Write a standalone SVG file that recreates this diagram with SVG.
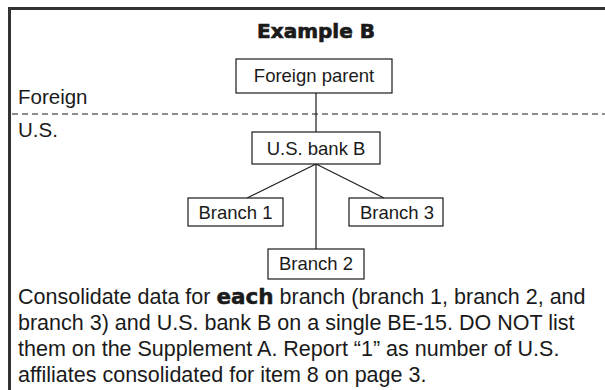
<svg xmlns="http://www.w3.org/2000/svg" width="605" height="390" viewBox="0 0 605 390">
<style>
.box{fill:#fff;stroke:#1a1a1a;stroke-width:1.2}
.lbl{font-family:"Liberation Sans",Arial,sans-serif;font-size:18.5px;fill:#1a1a1a;text-anchor:middle}
.side{font-family:"Liberation Sans",Arial,sans-serif;font-size:20.5px;fill:#1a1a1a}
.para{font-family:"Liberation Sans",Arial,sans-serif;font-size:21.5px;fill:#1a1a1a}
.con{stroke:#1a1a1a;stroke-width:1.2;fill:none}
</style>
<rect width="605" height="390" fill="#fff"/>
<path d="M9.5 390 V8.5 H605" fill="none" stroke="#333" stroke-width="3"/>
<text x="316" y="38" text-anchor="middle" font-family="'DejaVu Sans',sans-serif" font-weight="bold" font-size="20" fill="#1a1a1a" stroke="#1a1a1a" stroke-width="0.7">Example B</text>
<text class="side" x="18" y="104">Foreign</text>
<line x1="12" y1="114" x2="605" y2="114" stroke="#1a1a1a" stroke-width="1" stroke-dasharray="6,4"/>
<text class="side" x="18" y="137">U.S.</text>
<g id="connectors">
<line class="con" x1="316" y1="93" x2="316" y2="132"/>
<line class="con" x1="316" y1="164" x2="316" y2="249"/>
<line class="con" x1="316" y1="164" x2="247" y2="198"/>
<line class="con" x1="316" y1="164" x2="384" y2="198"/>
</g>
<g id="foreign-parent"><rect class="box" x="236" y="59" width="156" height="34"/><text class="lbl" x="314" y="82">Foreign parent</text></g>
<g id="us-bank-b"><rect class="box" x="252" y="132" width="128" height="32"/><text class="lbl" x="316" y="155">U.S. bank B</text></g>
<g id="branch-1"><rect class="box" x="188" y="198" width="95" height="28"/><text class="lbl" x="235.5" y="219">Branch 1</text></g>
<g id="branch-3"><rect class="box" x="349" y="198" width="94" height="28"/><text class="lbl" x="397" y="219">Branch 3</text></g>
<g id="branch-2"><rect class="box" x="268" y="249" width="96" height="30"/><text class="lbl" x="316" y="270">Branch 2</text></g>
<text class="para" x="18" y="304">Consolidate data for <tspan font-family="'DejaVu Sans',sans-serif" font-weight="bold" stroke="#1a1a1a" stroke-width="0.5">each</tspan> branch (branch 1, branch 2, and</text>
<text class="para" x="18" y="330">branch 3) and U.S. bank B on a single BE-15. DO NOT list</text>
<text class="para" x="18" y="356">them on the Supplement A. Report “1” as number of U.S.</text>
<text class="para" x="18" y="382">affiliates consolidated for item 8 on page 3.</text>
</svg>
